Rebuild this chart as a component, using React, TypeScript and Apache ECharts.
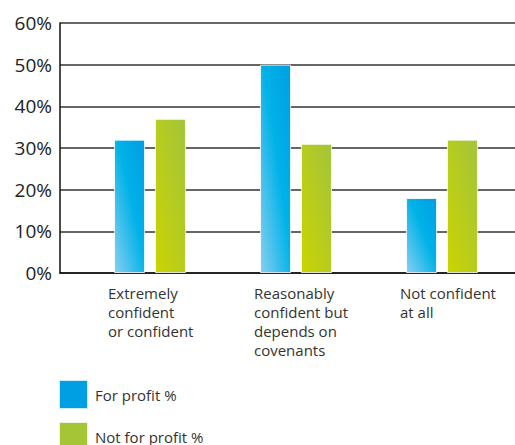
import React, { useEffect, useRef } from "react";
import * as echarts from "echarts";

const categories = [
  "Extremely\nconfident\nor confident",
  "Reasonably\nconfident but\ndepends on\ncovenants",
  "Not confident\nat all",
];
const forProfit = [32, 50, 18];
const notForProfit = [37, 31, 32];
const seriesNames = ["For profit %", "Not for profit %"];
const yMin = 0;
const yMax = 60;
const yInterval = 10;

const FONT = "'Open Sans', 'Noto Sans', sans-serif";

export default function App() {
  const ref = useRef<HTMLDivElement>(null);
  useEffect(() => {
    if (!ref.current) return;
    const chart = echarts.init(ref.current, undefined, { renderer: "svg" });
    const blue = new echarts.graphic.LinearGradient(1, 0, 0, 1, [
      { offset: 0, color: "#009ee2" },
      { offset: 0.45, color: "#00b2e8" },
      { offset: 1, color: "#88cff2" },
    ]);
    const green = new echarts.graphic.LinearGradient(1, 0, 0, 1, [
      { offset: 0, color: "#a2c43c" },
      { offset: 1, color: "#cbd400" },
    ]);
    chart.setOption({
      animation: false,
      textStyle: { fontFamily: FONT },
      grid: [
        { left: 60, right: 0, top: 23, height: 250 },
        { left: 77, right: 0, top: 23, height: 250 },
      ],
      legend: {
        type: "plain",
        orient: "vertical",
        left: 58,
        top: 379,
        width: 200,
        height: 90,
        padding: 0,
        itemWidth: 29,
        itemHeight: 29,
        itemGap: 11,
        icon: "rect",
        textStyle: { fontSize: 15, color: "#333", fontFamily: FONT, padding: [0, 0, 0, 2] },
        data: [
          { name: seriesNames[0], itemStyle: { color: "#009fe3" } },
          { name: seriesNames[1], itemStyle: { color: "#a5c537" } },
        ],
      },
      xAxis: [
        {
          type: "category",
          gridIndex: 0,
          data: categories,
          axisLine: { show: true, lineStyle: { color: "#111", width: 1.5 } },
          axisTick: { show: false },
          axisLabel: { show: false },
        },
        {
          type: "category",
          gridIndex: 1,
          data: categories,
          axisLine: { show: false },
          axisTick: { show: false },
          axisLabel: {
            align: "left",
            verticalAlign: "top",
            margin: 10,
            padding: [0, 0, 0, -42],
            fontSize: 15,
            lineHeight: 19,
            color: "#333",
            fontFamily: FONT,
          },
        },
      ],
      yAxis: [
        {
          type: "value",
          gridIndex: 0,
          min: yMin,
          max: yMax,
          interval: yInterval,
          axisLine: { show: true, lineStyle: { color: "#111", width: 1.5 } },
          axisTick: { show: false },
          axisLabel: {
            formatter: "{value}%",
            fontSize: 19,
            color: "#222",
            margin: 8,
            fontFamily: FONT,
          },
          splitLine: { show: true, lineStyle: { color: "#333", width: 1.5 } },
        },
        {
          type: "value",
          gridIndex: 1,
          min: yMin,
          max: yMax,
          interval: yInterval,
          show: false,
        },
      ],
      series: [
        {
          name: seriesNames[0],
          type: "bar",
          xAxisIndex: 1,
          yAxisIndex: 1,
          data: forProfit,
          barWidth: 31,
          barGap: "32%",
          itemStyle: {
            color: blue,
            borderColor: "rgba(255,255,255,0.8)",
            borderWidth: 1,
          },
        },
        {
          name: seriesNames[1],
          type: "bar",
          xAxisIndex: 1,
          yAxisIndex: 1,
          data: notForProfit,
          barWidth: 31,
          barGap: "32%",
          itemStyle: {
            color: green,
            borderColor: "rgba(255,255,255,0.8)",
            borderWidth: 1,
          },
        },
      ],
    });
    return () => chart.dispose();
  }, []);
  return (
    <div
      ref={ref}
      style={{ position: "fixed", left: 0, top: 0, width: 515, height: 445, background: "#fff" }}
    />
  );
}
